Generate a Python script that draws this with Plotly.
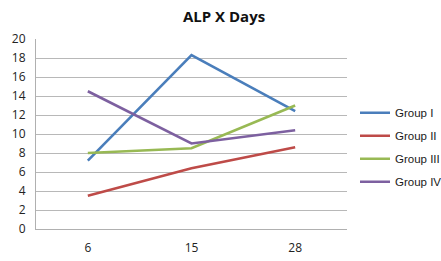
import plotly.graph_objects as go

days = ["6", "15", "28"]
group_names = ["Group I", "Group II", "Group III", "Group IV"]
group_i = [7.2, 18.3, 12.4]
group_ii = [3.5, 6.4, 8.6]
group_iii = [8.0, 8.5, 13.0]
group_iv = [14.5, 9.0, 10.4]
colors = ["#4A7EBB", "#BE4B48", "#98B954", "#7D60A0"]

fig = go.Figure()
for name, vals, col in zip(group_names, [group_i, group_ii, group_iii, group_iv], colors):
    fig.add_trace(go.Scatter(x=days, y=vals, mode="lines", name=name, legendgroup=name,
                             line=dict(color=col, width=2.6)))

fig.update_layout(
    width=441, height=261,
    margin=dict(l=36, r=94, t=39, b=32, autoexpand=False),
    paper_bgcolor="white", plot_bgcolor="white",
    font=dict(family="Open Sans, Arial, sans-serif", size=12, color="#222"),
    title=dict(text="<b>ALP X Days</b>", x=0.508, xanchor="center", y=0.935, yanchor="middle",
               font=dict(size=15, color="#111")),
    xaxis=dict(type="category", range=[-0.5, 2.5], showgrid=False,
               showline=True, linecolor="#b0b0b0", linewidth=1, ticks="",
               ticklabelstandoff=8, automargin=False),
    yaxis=dict(range=[0, 20], dtick=2, showgrid=True, gridcolor="#b8b8b8", gridwidth=1,
               showline=True, linecolor="#b0b0b0", linewidth=1, zeroline=False, ticks="",
               automargin=False, ticklabelstandoff=7),
    legend=dict(x=(355 - 36) / 311, xanchor="left", y=0.43, yanchor="middle", tracegroupgap=4,
                font=dict(family="Liberation Sans, Arial, sans-serif", size=11.5, color="#1a1a1a"),
                bgcolor="rgba(0,0,0,0)"),
)
fig.write_html("out.html", config={"displayModeBar": False},
               post_script="document.body.style.margin='0';document.body.style.overflow='hidden';")
